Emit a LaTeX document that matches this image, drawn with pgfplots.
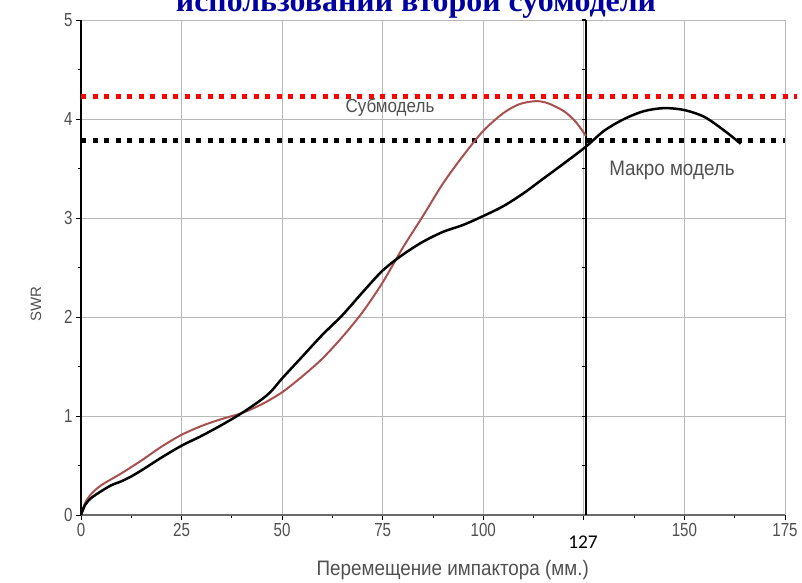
\documentclass[border=0pt]{standalone}
\usepackage{fontspec}
\usepackage{pgfplots}
\pgfplotsset{compat=1.18}
\setmainfont{Liberation Sans}
\newfontfamily\narrowfont[FakeStretch=0.8]{Liberation Sans}
\newfontfamily\labelfont[FakeStretch=0.9]{Liberation Sans}
\newfontfamily\titlefont{Liberation Serif}
\newfontfamily\calfont{Carlito}
\definecolor{tickgray}{HTML}{505050}
\definecolor{gridgray}{HTML}{B8B8B8}
\definecolor{subred}{HTML}{A85050}
\definecolor{titleblue}{HTML}{0000A0}

\begin{document}
\begin{tikzpicture}
\useasboundingbox (0,0) rectangle (802bp,583bp);
\begin{axis}[
  at={(81bp,68bp)}, anchor=south west,
  width=704bp, height=495bp, scale only axis,
  xmin=0, xmax=175, ymin=0, ymax=5,
  axis x line*=bottom, axis y line*=left,
  x axis line style={line width=2.5bp, color=tickgray!85},
  y axis line style={line width=1.3bp, black},
  xtick={0,25,...,175}, ytick={0,1,...,5},
  xticklabels={0,25,50,75,100,,150,175},
  minor x tick num=1, minor y tick num=1,
  tick align=outside, major tick length=5bp, minor tick length=3bp,
  tick style={black, line width=1bp},
  grid=major, major grid style={gridgray, line width=0.9bp},
  /pgf/number format/assume math mode=true,
  ticklabel style={font=\narrowfont\fontsize{19}{19}\selectfont, text=tickgray},
  xlabel={Перемещение импактора (мм.)},
  ylabel={SWR},
  xlabel style={font=\labelfont\fontsize{21}{21}\selectfont, text=tickgray,
    at={(axis description cs:0.528,-0.111)}, anchor=center},
  ylabel style={font=\fontsize{15}{15}\selectfont, text=tickgray,
    at={(axis description cs:-0.064,0.426)}, anchor=center},
  clip=false,
]
% reference levels
\addplot[red, line width=5bp, dash pattern=on 5bp off 6.5bp] coordinates {(0,4.23) (178,4.23)};
\addplot[black, line width=5bp, dash pattern=on 5bp off 6.5bp] coordinates {(0,3.78) (175,3.78)};
% boundary of the submodel
\addplot[black, line width=1.5bp] coordinates {(125.5,0) (125.5,5)};
\pgfplotsinvokeforeach{0.5,1,...,4.5}{\draw[black, line width=1bp] (axis cs:125.5,#1) -- ++(-4bp,0);}
\draw[black, line width=1.5bp] (axis cs:125.5,5) -- ++(-4bp,0);
% submodel
\addplot[subred, line width=2bp, smooth] coordinates {
(0,0) (1,0.12) (2.5,0.21) (5,0.30) (10,0.42) (15,0.55) (20,0.69) (25,0.81)
(30,0.90) (35,0.97) (40,1.03) (45,1.12) (50,1.24) (55,1.40) (60,1.58)
(65,1.80) (70,2.05) (75,2.35) (80,2.70) (85,3.02) (90,3.35) (95,3.63)
(100,3.88) (105,4.06) (109,4.15) (113,4.18) (116,4.16) (120,4.08)
(123,3.97) (125.5,3.83)};
% macro model
\addplot[black, line width=2.5bp, smooth] coordinates {
(0,0) (1,0.1) (2.5,0.17) (5,0.24) (7.5,0.30) (10,0.34) (12.5,0.39) (15,0.45)
(20,0.58) (25,0.70) (30,0.80) (35,0.91) (40,1.03) (45,1.17) (47.5,1.26)
(50,1.38) (55,1.60) (60,1.82) (65,2.02) (70,2.25) (75,2.47) (80,2.63)
(85,2.76) (90,2.86) (95,2.93) (100,3.02) (105,3.12) (110,3.25) (115,3.40)
(120,3.55) (125.5,3.72) (130,3.88) (135,4.00) (140,4.08) (145,4.11)
(150,4.09) (155,4.02) (160,3.88) (164,3.75)};
\node[font=\labelfont\fontsize{19}{19}\selectfont, text=tickgray] at (axis cs:76.8,4.12) {Субмодель};
\node[font=\labelfont\fontsize{21}{21}\selectfont, text=tickgray] at (axis cs:146.9,3.48) {Макро модель};
\node[font=\calfont\fontsize{19.5}{19.5}\selectfont, text=black] at (axis cs:124.8,-0.27) {127};
\end{axis}
\node[font=\titlefont\bfseries\fontsize{32}{32}\selectfont, text=titleblue, anchor=base]
  at (416bp,571bp) {использовании второй субмодели};
\end{tikzpicture}
\end{document}
